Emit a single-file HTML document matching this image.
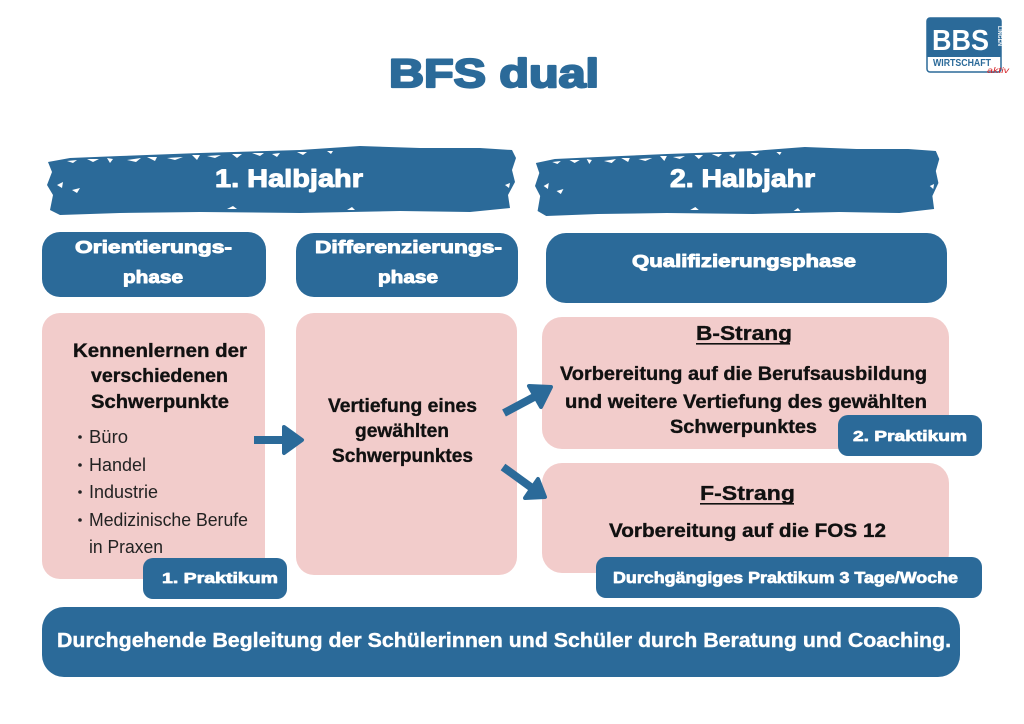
<!DOCTYPE html>
<html><head><meta charset="utf-8"><style>
html,body{margin:0;padding:0;background:#fff;}
svg{display:block;}
text{font-family:"Liberation Sans",Arial,sans-serif;}
</style></head><body>
<svg width="1024" height="724" viewBox="0 0 1024 724" xmlns="http://www.w3.org/2000/svg">
<rect width="1024" height="724" fill="#fff"/>
<defs>
<path id="brush" d="M1,17 L23,13 L73,11 L153,8 L253,5 L313,1 L373,3 L433,3 L465,5 L469,13 L465,25 L468,37 L461,50 L463,63 L423,67 L353,66 L253,68 L153,67 L73,68 L13,70 L3,65 L6,50 L0,40 L5,27 Z"/>
<g id="flecks" fill="#fff">
<path d="M20,16 l10,-1 l-4,3 z"/><path d="M40,14 l12,0 l-6,3 z"/><path d="M60,13 l6,1 l-3,4 z"/>
<path d="M80,15 l14,-2 l-5,4 z"/><path d="M100,12 l10,0 l-2,4 z"/><path d="M120,13 l16,-1 l-8,3 z"/>
<path d="M145,10 l8,0 l-3,5 z"/><path d="M160,11 l14,-1 l-6,3 z"/><path d="M185,9 l10,0 l-5,4 z"/>
<path d="M205,8 l12,0 l-4,3 z"/><path d="M225,9 l8,-1 l-3,4 z"/><path d="M250,7 l10,0 l-4,3 z"/>
<path d="M280,6 l6,0 l-2,3 z"/><path d="M10,40 l6,-3 l-1,6 z"/><path d="M25,45 l8,-2 l-3,5 z"/>
<path d="M180,64 l10,0 l-4,-3 z"/><path d="M300,65 l8,0 l-3,-3 z"/><path d="M458,40 l5,-2 l-1,5 z"/>
</g>
</defs>

<!-- Title -->
<text x="389" y="87" font-size="40" font-weight="bold" fill="#2b6a99" stroke="#2b6a99" stroke-width="2.2" stroke-linejoin="round" textLength="210" lengthAdjust="spacingAndGlyphs">BFS dual</text>

<!-- Logo -->
<rect x="927" y="18" width="74" height="54" rx="3" fill="#fff" stroke="#2b6a99" stroke-width="1.5"/>
<path d="M927,21 a3,3 0 0 1 3,-3 h68 a3,3 0 0 1 3,3 v36 h-74 z" fill="#2b6a99"/>
<text x="932" y="50" font-size="29" font-weight="bold" fill="#fff" textLength="57" lengthAdjust="spacingAndGlyphs">BBS</text>
<text x="0" y="0" font-size="5" font-weight="bold" fill="#fff" transform="translate(998,26) rotate(90)" textLength="20" lengthAdjust="spacingAndGlyphs">LINGEN</text>
<text x="933" y="66" font-size="10" font-weight="bold" fill="#2b6a99" textLength="58" lengthAdjust="spacingAndGlyphs">WIRTSCHAFT</text>
<text x="987" y="73" font-size="8" font-style="italic" fill="#d6262a" textLength="22" lengthAdjust="spacingAndGlyphs">aktiv</text>

<!-- Banners -->
<g transform="translate(47,145)"><use href="#brush" fill="#2b6a99"/><use href="#flecks"/></g>
<g transform="translate(535,146) scale(0.862,1)"><use href="#brush" fill="#2b6a99"/><use href="#flecks"/></g>
<g font-size="25" font-weight="bold" fill="#fff" stroke="#fff" stroke-width="1" stroke-linejoin="round">
<text x="215" y="187" textLength="148" lengthAdjust="spacingAndGlyphs">1. Halbjahr</text>
<text x="670" y="187" textLength="145" lengthAdjust="spacingAndGlyphs">2. Halbjahr</text>
</g>

<!-- Phase headers -->
<rect x="42" y="232" width="224" height="65" rx="18" fill="#2b6a99"/>
<rect x="296" y="233" width="222" height="64" rx="18" fill="#2b6a99"/>
<rect x="546" y="233" width="401" height="70" rx="20" fill="#2b6a99"/>
<g font-size="17.5" font-weight="bold" fill="#fff" stroke="#fff" stroke-width="0.9" stroke-linejoin="round">
<text x="75" y="253" textLength="157" lengthAdjust="spacingAndGlyphs">Orientierungs-</text>
<text x="123" y="283" textLength="60" lengthAdjust="spacingAndGlyphs">phase</text>
<text x="315" y="253" textLength="187" lengthAdjust="spacingAndGlyphs">Differenzierungs-</text>
<text x="378" y="283" textLength="60" lengthAdjust="spacingAndGlyphs">phase</text>
<text x="632" y="267" textLength="224" lengthAdjust="spacingAndGlyphs">Qualifizierungsphase</text>
</g>

<!-- Pink boxes -->
<rect x="42" y="313" width="223" height="266" rx="18" fill="#f2cccb"/>
<rect x="296" y="313" width="221" height="262" rx="18" fill="#f2cccb"/>
<rect x="542" y="317" width="407" height="132" rx="20" fill="#f2cccb"/>
<rect x="542" y="463" width="407" height="110" rx="20" fill="#f2cccb"/>

<!-- Left box text -->
<g font-size="19" font-weight="bold" fill="#111" stroke="#111" stroke-width="0.35">
<text x="73" y="357" textLength="174" lengthAdjust="spacingAndGlyphs">Kennenlernen der</text>
<text x="91" y="382" textLength="137" lengthAdjust="spacingAndGlyphs">verschiedenen</text>
<text x="91" y="408" textLength="138" lengthAdjust="spacingAndGlyphs">Schwerpunkte</text>
</g>
<g font-size="18" fill="#222">
<text x="89" y="443" textLength="39" lengthAdjust="spacingAndGlyphs">Büro</text>
<text x="89" y="471" textLength="57" lengthAdjust="spacingAndGlyphs">Handel</text>
<text x="89" y="498" textLength="69" lengthAdjust="spacingAndGlyphs">Industrie</text>
<text x="89" y="526" textLength="159" lengthAdjust="spacingAndGlyphs">Medizinische Berufe</text>
<text x="89" y="553" textLength="74" lengthAdjust="spacingAndGlyphs">in Praxen</text>
</g>
<g fill="#222">
<circle cx="80" cy="437" r="1.8"/><circle cx="80" cy="465" r="1.8"/><circle cx="80" cy="492" r="1.8"/><circle cx="80" cy="520" r="1.8"/>
</g>

<!-- Middle box text -->
<g font-size="19" font-weight="bold" fill="#111" stroke="#111" stroke-width="0.35">
<text x="328" y="412" textLength="149" lengthAdjust="spacingAndGlyphs">Vertiefung eines</text>
<text x="355" y="437" textLength="94" lengthAdjust="spacingAndGlyphs">gewählten</text>
<text x="332" y="462" textLength="141" lengthAdjust="spacingAndGlyphs">Schwerpunktes</text>
</g>

<!-- B-Strang -->
<g font-size="19" font-weight="bold" fill="#111" stroke="#111" stroke-width="0.35">
<text x="696" y="340" font-size="20.5" textLength="96" lengthAdjust="spacingAndGlyphs">B-Strang</text>
<text x="560" y="380" textLength="367" lengthAdjust="spacingAndGlyphs">Vorbereitung auf die Berufsausbildung</text>
<text x="565" y="408" textLength="362" lengthAdjust="spacingAndGlyphs">und weitere Vertiefung des gewählten</text>
<text x="670" y="433" textLength="147" lengthAdjust="spacingAndGlyphs">Schwerpunktes</text>
</g>
<rect x="696" y="343" width="94" height="1.6" fill="#111"/>

<!-- F-Strang -->
<g font-size="19" font-weight="bold" fill="#111" stroke="#111" stroke-width="0.35">
<text x="700" y="500" font-size="20.5" textLength="95" lengthAdjust="spacingAndGlyphs">F-Strang</text>
<text x="609" y="537" textLength="277" lengthAdjust="spacingAndGlyphs">Vorbereitung auf die FOS 12</text>
</g>
<rect x="700" y="503" width="94" height="1.6" fill="#111"/>

<!-- Badges -->
<rect x="143" y="558" width="144" height="41" rx="10" fill="#2b6a99"/>
<rect x="838" y="415" width="144" height="41" rx="10" fill="#2b6a99"/>
<rect x="596" y="557" width="386" height="41" rx="10" fill="#2b6a99"/>
<g font-size="15" font-weight="bold" fill="#fff" stroke="#fff" stroke-width="0.7" stroke-linejoin="round">
<text x="162" y="583" textLength="116" lengthAdjust="spacingAndGlyphs">1.  Praktikum</text>
<text x="853" y="441" textLength="114" lengthAdjust="spacingAndGlyphs">2. Praktikum</text>
<text x="613" y="583" font-size="15.5" textLength="345" lengthAdjust="spacingAndGlyphs">Durchgängiges Praktikum 3 Tage/Woche</text>
</g>

<!-- Bottom bar -->
<rect x="42" y="607" width="918" height="70" rx="22" fill="#2b6a99"/>
<text x="57" y="647" font-size="20" font-weight="bold" fill="#fff" stroke="#fff" stroke-width="0.4" textLength="894" lengthAdjust="spacingAndGlyphs">Durchgehende Begleitung der Schülerinnen und Schüler durch Beratung und Coaching.</text>

<!-- Arrows -->
<g fill="#2b6a99" stroke="#2b6a99" stroke-linejoin="round">
<rect x="254" y="436" width="31" height="8" stroke="none"/>
<polygon points="284,427 302,440 284,453" stroke-width="4"/>
<line x1="504" y1="413" x2="536" y2="396" stroke-width="8" stroke-linecap="butt"/>
<polygon points="529,386 551,387 541,407" stroke-width="4"/>
<line x1="503" y1="467" x2="532" y2="488" stroke-width="8" stroke-linecap="butt"/>
<polygon points="525,498 538,479 545,497" stroke-width="4"/>
</g>
</svg>
</body></html>
